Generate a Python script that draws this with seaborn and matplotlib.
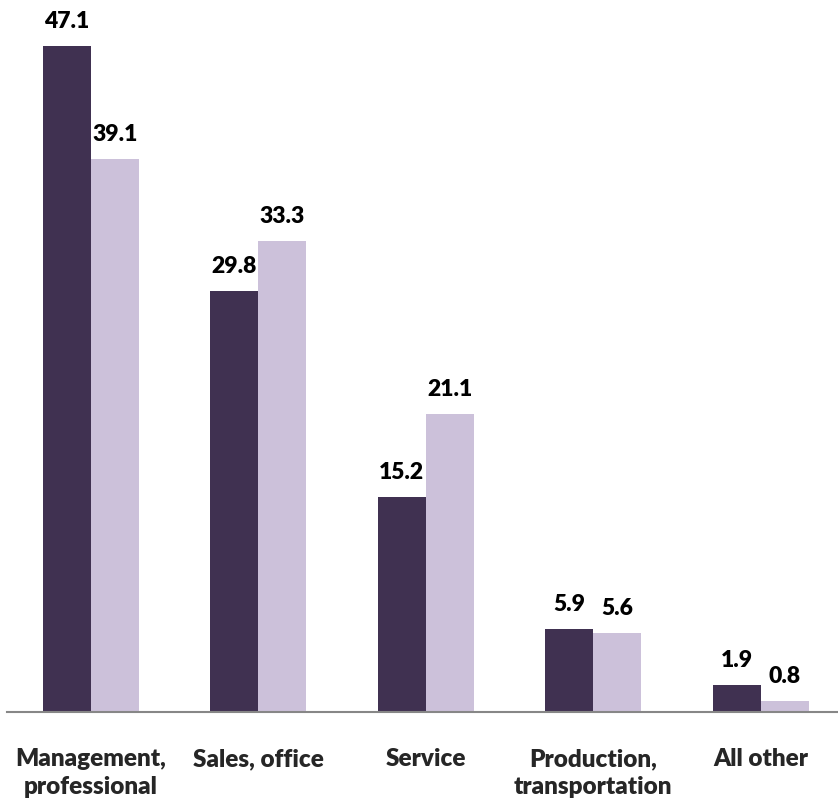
import matplotlib
matplotlib.use("Agg")
import matplotlib.pyplot as plt
import seaborn as sns
import pandas as pd

categories = ["Management,\nprofessional", "Sales, office", "Service",
              "Production,\ntransportation", "All other"]
series_names = ["Group A", "Group B"]
values_a = [47.1, 29.8, 15.2, 5.9, 1.9]
values_b = [39.1, 33.3, 21.1, 5.6, 0.8]

colors = ["#403151", "#CCC1DA"]

df = pd.DataFrame({
    "category": categories * 2,
    "series": [series_names[0]] * len(categories) + [series_names[1]] * len(categories),
    "value": values_a + values_b,
})

sns.set_theme(style="white")
plt.rcParams["font.family"] = ["Lato", "DejaVu Sans"]

fig = plt.figure(figsize=(8.38, 7.99), dpi=100)
ax = fig.add_axes([7 / 838, 87 / 799, 837.5 / 838, 712 / 799])

sns.barplot(data=df, x="category", y="value", hue="series", order=categories,
            hue_order=series_names, palette=colors, width=0.573, dodge=True,
            saturation=1, linewidth=0, ax=ax, legend=False)

for container in ax.containers:
    ax.bar_label(container, fmt="%.1f", padding=10, fontsize=16.5,
                 fontweight="heavy", color="black")

ax.set_xlim(-0.5, 4.5)
ax.set_ylim(0, 50.35)
ax.set_xlabel("")
ax.set_ylabel("")
ax.set_yticks([])
for side in ["top", "right", "left"]:
    ax.spines[side].set_visible(False)
ax.spines["bottom"].set_color("#878787")
ax.spines["bottom"].set_linewidth(1.5)
ax.tick_params(axis="x", length=0, pad=26, labelsize=17.5)
for lbl in ax.get_xticklabels():
    lbl.set_fontweight("heavy")
    lbl.set_linespacing(1.35)
    lbl.set_verticalalignment("top")

fig.savefig("out.png", dpi=100, facecolor="white")
